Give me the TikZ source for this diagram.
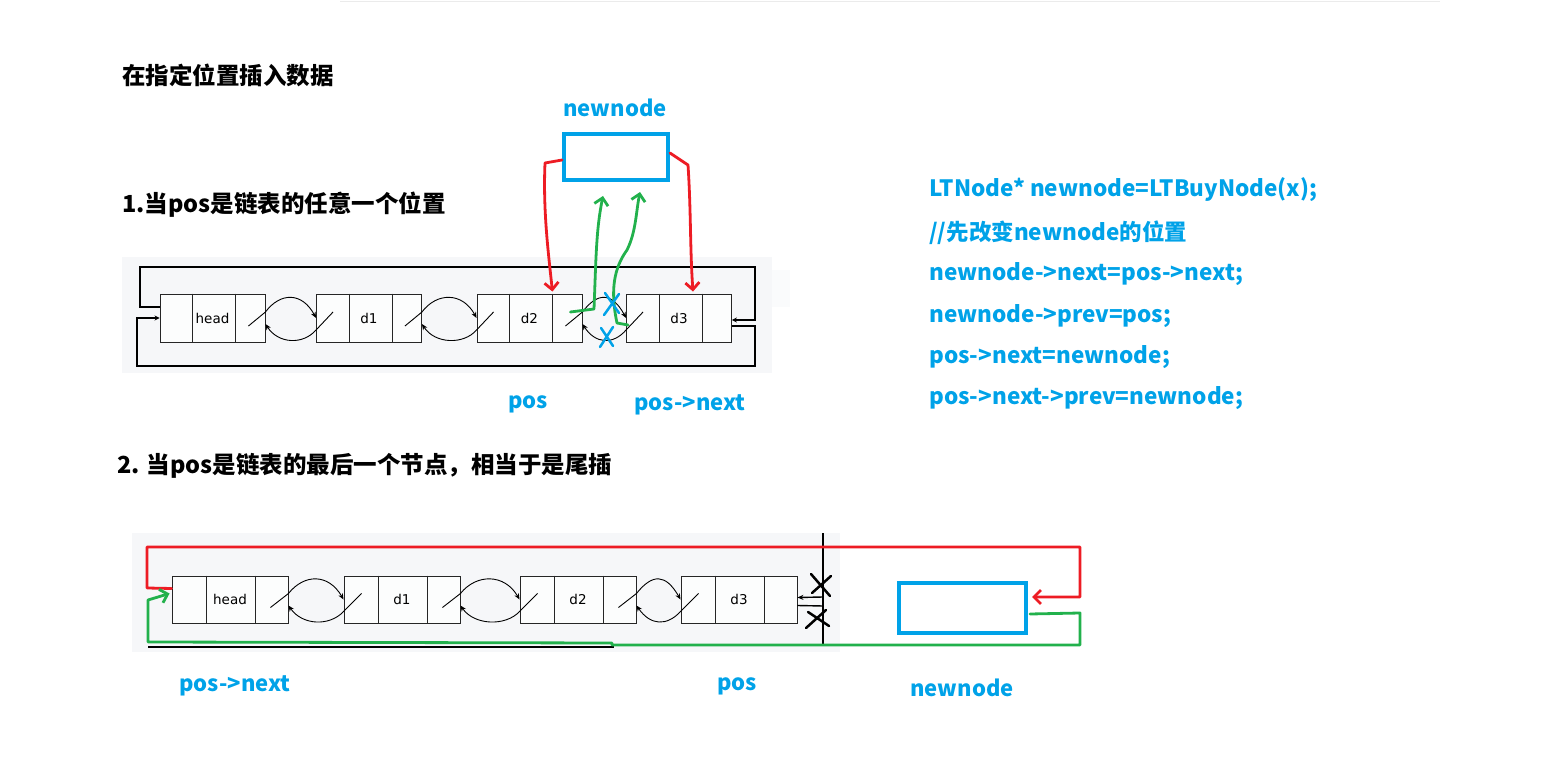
\documentclass[tikz,border=0pt]{standalone}
\usepackage{fontspec}
\setmainfont{Noto Sans CJK SC}
\newfontfamily\cellfont{DejaVu Sans}
\usetikzlibrary{calc,arrows.meta}
\definecolor{msblue}{RGB}{0,162,232}
\definecolor{msred}{RGB}{237,28,36}
\definecolor{msgreen}{RGB}{34,177,76}
\definecolor{panelbg}{RGB}{246,247,249}
\tikzset{
  heading/.style={anchor=west, inner sep=0pt, font=\fontsize{23.5}{26}\selectfont\bfseries},
  bluelabel/.style={inner sep=0pt, text=msblue, font=\fontsize{22}{26}\selectfont\bfseries},
  codeline/.style={anchor=west, inner sep=0pt, text=msblue, font=\fontsize{22.5}{26}\selectfont\bfseries},
  cellbox/.style={draw=black!85, line width=0.9pt, fill=white!70!panelbg, inner sep=0pt, font=\cellfont\fontsize{13.5}{15}\selectfont},
  cellline/.style={draw=black!85, line width=0.9pt},
  ptr/.style={-{Stealth[length=6pt,width=5pt]}, line width=0.9pt},
  frame/.style={line width=1.8pt, -{Stealth[length=5pt,width=5pt]}},
  newbox/.style={draw=msblue, line width=4pt, inner sep=0pt},
  hand/.style={line width=2.8pt, line cap=round, line join=round, -{Straight Barb[length=7pt,width=14pt]}},
  cross/.style={line width=2.5pt, line cap=round}
}
\newcommand{\splitcells}[3]{%
  \draw[cellline] ($(#1.north west)+(#2,0)$) -- ($(#1.south west)+(#2,0)$)
    ($(#1.north east)+(-#3,0)$) -- ($(#1.south east)+(-#3,0)$);}
\begin{document}
\begin{tikzpicture}[x=1pt,y=-1pt]
\useasboundingbox (0,0) rectangle (1566,783);
\draw[black!8, line width=1pt] (340,2) -- (1440,2);
\node[heading] (title) at (122,75) {在指定位置插入数据};
\node[heading] (caseA) at (122,205) {1.当pos是链表的任意一个位置};
\node[heading] (caseB) at (117,466) {2. 当pos是链表的最后一个节点，相当于是尾插};

% case 1: pos in the middle
\fill[panelbg] (122,257) rectangle (772,373);
\fill[panelbg!50] (772,270) rectangle (790,307);
\foreach \n/\x/\t in {headA/212.5/head, d1A/369/d1, d2A/529.5/d2, d3A/679/d3} {
  \node[cellbox, minimum width=105pt, minimum height=48pt] (\n) at (\x,318) {\t};
  \splitcells{\n}{33}{30}
}
\foreach \a/\b in {headA/d1A, d1A/d2A, d2A/d3A} {
  \draw[ptr] ($(\a.east)+(-17,8)$) -- ($(\a.east)+(0,-6)$) .. controls ($(\a.east)+(15,-26)$) and ($(\b.west)+(-14,-26)$) .. (\b.west);
  \draw[ptr] ($(\b.west)+(17,-6)$) -- ($(\b.west)+(0,12)$) .. controls ($(\b.west)+(-13,27)$) and ($(\a.east)+(13,26)$) .. ($(\a.east)+(0,6)$);
}
\coordinate (ringAnw) at (140,267);
\coordinate (ringAne) at (755,267);
\coordinate (ringAse) at (755,366);
\coordinate (ringAsw) at (137,366);
\draw[frame] ($(headA.west)+(0,-11)$) -| (ringAnw) -| (ringAne) |- ($(d3A.east)+(0,2)$);
\draw[frame] ($(d3A.east)+(0,8)$) -| (ringAse) -| (ringAsw) |- (headA.west);

\node[newbox, minimum width=104pt, minimum height=46pt] (newA) at (616,157) {};
\node[bluelabel] (newAlabel) at (615,108) {newnode};
\draw[hand, msred] ($(newA.west)+(0,3)$) -- (545,163) .. controls (543,210) and (548,250) .. ($(d2A.north east)+(-30,-2)$);
\draw[hand, msred] ($(newA.east)+(0,-4)$) -- (688,165) .. controls (691,210) and (690,250) .. ($(d3A.north)+(14,-2)$);
\draw[hand, msgreen] ($(d2A.east)+(-12,-6)$) -- (594,309) .. controls (596,260) and (596,230) .. ($(newA.south)+(-13,14)$);
\draw[hand, msgreen] ($(d3A.west)+(2,7)$) -- (617,323) .. controls (610,290) and (614,268) .. (627,250) .. controls (636,232) and (636,212) .. ($(newA.south)+(24,10)$);
\draw[cross, msblue] (605,293) -- (619,313) (619,294) -- (604,315);
\draw[cross, msblue] (601,328) -- (613,346) (613,327) -- (600,347);
\node[bluelabel] (posA) at (528,404) {pos};
\node[bluelabel] (posnextA) at (690,405) {pos->next};

\foreach \y/\t in {190/{LTNode* newnode=LTBuyNode(x);}, 233/{//先改变newnode的位置}, 274/{newnode->next=pos->next;}, 316/{newnode->prev=pos;}, 357/{pos->next=newnode;}, 398/{pos->next->prev=newnode;}}
  \node[codeline] (code\y) at (929,\y) {\t};

% case 2: pos is the tail
\fill[panelbg] (132,533) rectangle (840,652);
\foreach \n/\x/\t in {headB/230/head, d1B/402/d1, d2B/578/d2, d3B/739/d3} {
  \node[cellbox, minimum width=116pt, minimum height=47pt] (\n) at (\x,599.5) {\t};
  \splitcells{\n}{35}{33}
}
\foreach \a/\b in {headB/d1B, d1B/d2B, d2B/d3B} {
  \draw[ptr] ($(\a.east)+(-18,8)$) -- ($(\a.east)+(0,-6)$) .. controls ($(\a.east)+(16,-26)$) and ($(\b.west)+(-15,-26)$) .. (\b.west);
  \draw[ptr] ($(\b.west)+(18,-6)$) -- ($(\b.west)+(0,12)$) .. controls ($(\b.west)+(-14,27)$) and ($(\a.east)+(14,26)$) .. ($(\a.east)+(0,6)$);
}
\coordinate (ringBn) at (823,533);
\coordinate (ringBs) at (823,645);
\coordinate (tailBin) at (823,597);
\coordinate (tailBout) at (823,606);
\draw[line width=1.2pt] (ringBn) -- (ringBs);
\draw[ptr, line width=1.4pt] (tailBin) -- ($(d3B.east)+(0,-2)$);
\draw[line width=1.4pt] ($(d3B.east)+(0,6)$) -- (tailBout);
\draw[line width=1.8pt] (148,647) -- (614,647);

\node[newbox, minimum width=127pt, minimum height=50pt] (newB) at (962.5,608) {};
\draw[hand, msred] ($(headB.west)+(0,-11)$) -- (147,588) -- (147,547) -- (1080,547) -- (1080,597) -- ($(newB.east)+(4,-11)$);
\draw[hand, msgreen] ($(newB.east)+(2,6)$) -- (1080,613) -- (1080,645) -- (612,645) -- (612,643) -- (148,642) -- (148,600) -- ($(headB.west)+(-2,-6)$);
\draw[cross] (811,574) -- (830,596) (831,576) -- (812,593);
\draw[cross] (806,628) -- (826,610) (808,612) -- (829,626);
\node[bluelabel] (posnextB) at (235,686) {pos->next};
\node[bluelabel] (posB) at (737,686) {pos};
\node[bluelabel] (newBlabel) at (962,688) {newnode};
\end{tikzpicture}
\end{document}
